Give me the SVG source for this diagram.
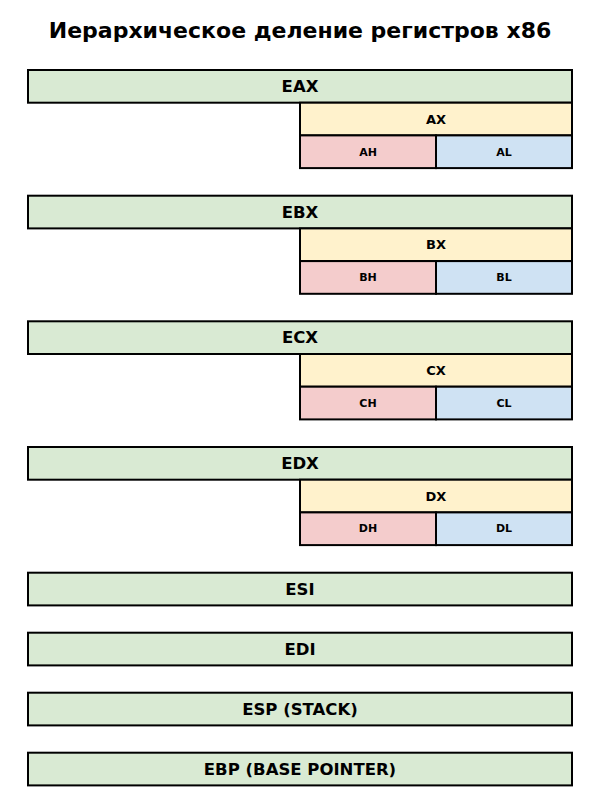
<svg xmlns="http://www.w3.org/2000/svg" width="600" height="810" viewBox="0 0 600 810">
<style>
rect{stroke:#000;stroke-width:2}
.g{fill:#d9ead3}.y{fill:#fff2cc}.p{fill:#f4cccc}.b{fill:#cfe2f3}
text{font-family:"DejaVu Sans","Liberation Sans",sans-serif;font-weight:bold;text-anchor:middle;dominant-baseline:central;fill:#000}
.t{font-size:22px}.l{font-size:16.5px}.m{font-size:13px}.s{font-size:11px}
</style>
<rect width="600" height="810" fill="#fff" style="stroke:none"/>
<text class="t" x="300" y="30">Иерархическое деление регистров x86</text>
<g id="eax"><rect class="g" x="28" y="70" width="544" height="32.7"/><text class="l" x="300" y="86.5">EAX</text></g>
<g id="ax"><rect class="y" x="300" y="102.7" width="272" height="32.7"/><text class="m" x="436" y="119">AX</text></g>
<g id="ah"><rect class="p" x="300" y="135.4" width="136" height="32.7"/><text class="s" x="368" y="152">AH</text></g>
<g id="al"><rect class="b" x="436" y="135.4" width="136" height="32.7"/><text class="s" x="504" y="152">AL</text></g>
<g id="ebx"><rect class="g" x="28" y="195.7" width="544" height="32.7"/><text class="l" x="300" y="212">EBX</text></g>
<g id="bx"><rect class="y" x="300" y="228.4" width="272" height="32.7"/><text class="m" x="436" y="244.7">BX</text></g>
<g id="bh"><rect class="p" x="300" y="261.1" width="136" height="32.7"/><text class="s" x="368" y="277.5">BH</text></g>
<g id="bl"><rect class="b" x="436" y="261.1" width="136" height="32.7"/><text class="s" x="504" y="277.5">BL</text></g>
<g id="ecx"><rect class="g" x="28" y="321.3" width="544" height="32.7"/><text class="l" x="300" y="337.7">ECX</text></g>
<g id="cx"><rect class="y" x="300" y="354" width="272" height="32.7"/><text class="m" x="436" y="370.4">CX</text></g>
<g id="ch"><rect class="p" x="300" y="386.7" width="136" height="32.7"/><text class="s" x="368" y="403">CH</text></g>
<g id="cl"><rect class="b" x="436" y="386.7" width="136" height="32.7"/><text class="s" x="504" y="403">CL</text></g>
<g id="edx"><rect class="g" x="28" y="447" width="544" height="32.7"/><text class="l" x="300" y="463.3">EDX</text></g>
<g id="dx"><rect class="y" x="300" y="479.7" width="272" height="32.7"/><text class="m" x="436" y="496">DX</text></g>
<g id="dh"><rect class="p" x="300" y="512.4" width="136" height="32.7"/><text class="s" x="368" y="528.7">DH</text></g>
<g id="dl"><rect class="b" x="436" y="512.4" width="136" height="32.7"/><text class="s" x="504" y="528.7">DL</text></g>
<g id="esi"><rect class="g" x="28" y="572.7" width="544" height="32.7"/><text class="l" x="300" y="589">ESI</text></g>
<g id="edi"><rect class="g" x="28" y="632.7" width="544" height="32.7"/><text class="l" x="300" y="649">EDI</text></g>
<g id="esp"><rect class="g" x="28" y="692.7" width="544" height="32.7"/><text class="l" x="300" y="709">ESP (STACK)</text></g>
<g id="ebp"><rect class="g" x="28" y="752.7" width="544" height="32.7"/><text class="l" x="300" y="769">EBP (BASE POINTER)</text></g>
<g id="connectors"/>
</svg>
